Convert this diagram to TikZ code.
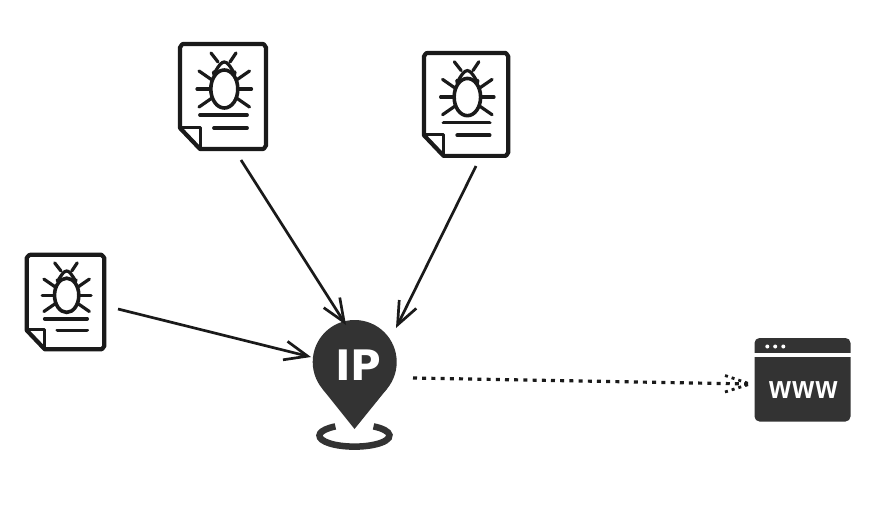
\documentclass[tikz,border=0pt]{standalone}
\usepackage{fontspec}
\usetikzlibrary{arrows.meta}
\newfontfamily\ipfont{DejaVu Sans}
\newfontfamily\wwwfont[LetterSpace=5]{Liberation Sans}
\definecolor{ink}{HTML}{333333}
\definecolor{docink}{HTML}{1A1A1A}
\tikzset{
  docline/.style={draw=docink,line width=4.2pt,line join=round,line cap=round},
  bugline/.style={draw=docink,line width=3.2pt,line cap=round},
  link/.style={draw=docink,line width=2.7pt,-{Straight Barb[length=23pt,width=19pt,line width=2.7pt]}},
  dotlink/.style={draw=docink,line width=3.2pt,dash pattern=on 4pt off 5.2pt},
  dotbarb/.style={draw=docink,line width=2.8pt,dash pattern=on 3pt off 4pt}
}
\newcommand{\bugdocicon}[4]{%
  \begin{scope}[shift={(#1,#2)},xscale=#3,yscale=#4]
    \draw[docline] (5,2) -- (85,2) to[out=0,in=-90] (88,5) -- (88,104) to[out=90,in=0] (85,107) -- (22,107) -- (2,86) -- (2,5) to[out=-90,in=180] cycle;
    \draw[docline,line width=3pt] (3,85) -- (22,85) -- (22,106);
    \draw[bugline,line width=3.6pt] (46.3,47) ellipse[x radius=13.5,y radius=19];
    \draw[bugline] (35.5,30) to[out=-90,in=180] (46.3,20) to[out=0,in=-90] (57,30);
    \draw[bugline] (33,11) -- (40,20);
    \draw[bugline] (58,11) -- (52,20);
    \draw[bugline] (21,29) -- (34,38);
    \draw[bugline] (19,47) -- (32,47);
    \draw[bugline] (21,65) -- (34,56);
    \draw[bugline] (71.5,29) -- (58.5,38);
    \draw[bugline] (73.5,47) -- (60.5,47);
    \draw[bugline] (71.5,65) -- (58.5,56);
    \draw[bugline,line width=3.8pt] (22,73) -- (69,73);
    \draw[bugline,line width=3.8pt] (36,86) -- (69,86);
  \end{scope}}
\begin{document}
\begin{tikzpicture}[x=1pt,y=-1pt]
  \useasboundingbox[fill=white] (0,0) rectangle (888,522);
  % document icons
  \bugdocicon{178}{42}{1}{1}
  \bugdocicon{422}{51}{0.98}{0.98}
  \bugdocicon{25}{253}{0.9}{0.9}
  % pin
  \fill[ink] (354.7,362) circle[radius=42];
  \fill[ink] (322.3,388.7) -- (354.5,429) -- (387.1,388.7) -- cycle;
  \draw[ink,line width=6.5pt] (335.4,426.4) arc[x radius=35,y radius=11,start angle=-123,end angle=-417];
  \node[text=white,font=\ipfont\bfseries\fontsize{42}{42}\selectfont,inner sep=0pt] (ip) at (358.5,365) {IP};
  % browser
  \fill[ink,rounded corners=5pt] (754.5,338) rectangle (850.5,421.5);
  \fill[white] (754,353.3) rectangle (851,356.7);
  \fill[white] (767.3,346.5) circle[radius=2] (775.2,346.5) circle[radius=2] (783.3,346.5) circle[radius=2];
  \node[text=white,font=\wwwfont\bfseries\fontsize{32}{32}\selectfont,inner sep=0pt,xscale=.88] (www) at (803.3,390) {www};
  % connector ends
  \coordinate (d1) at (241,160);
  \coordinate (d2) at (476,166);
  \coordinate (d3) at (118,309);
  \coordinate (p1) at (346,325);
  \coordinate (p2) at (396,328);
  \coordinate (p3) at (311,357);
  \coordinate (o) at (413,378);
  \coordinate (t) at (750,384);
  \coordinate (bu) at (725,375.5);
  \coordinate (bd) at (725,392);
  \draw[link] (d1) -- (p1);
  \draw[link] (d2) -- (p2);
  \draw[link] (d3) -- (p3);
  \draw[dotlink] (o) -- (t);
  \draw[dotbarb] (bu) -- (t);
  \draw[dotbarb] (bd) -- (t);
\end{tikzpicture}
\end{document}
